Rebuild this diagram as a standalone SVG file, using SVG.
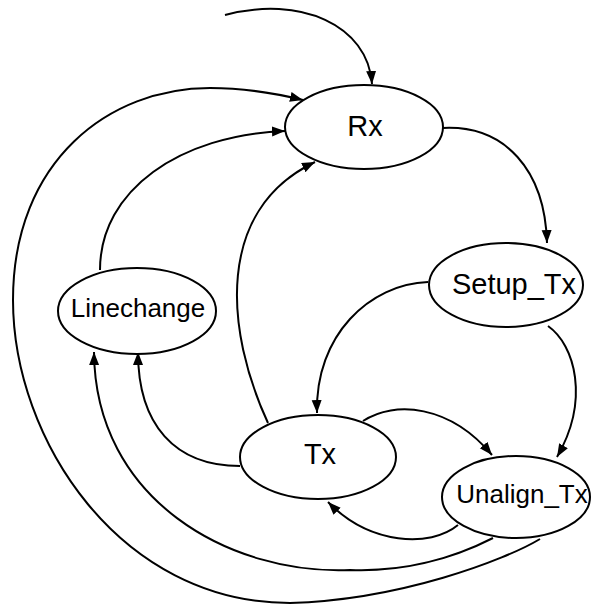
<svg xmlns="http://www.w3.org/2000/svg" width="592" height="606" viewBox="0 0 592 606">
<style>
.node ellipse{fill:#fff;stroke:#000;stroke-width:2}
.node text{font-family:"Liberation Sans",Arial,sans-serif;text-anchor:middle;fill:#000}
.big{font-size:29px}
.small{font-size:26px}
#edges path{fill:none;stroke:#000;stroke-width:2;marker-end:url(#arr)}
</style>
<defs>
<marker id="arr" markerUnits="userSpaceOnUse" markerWidth="14" markerHeight="11" refX="13" refY="5" orient="auto">
<path d="M0,0 L13,5 L0,10 z" fill="#000"/>
</marker>
</defs>
<rect width="592" height="606" fill="#fff"/>
<g id="edges">
<path d="M225,15 C300,-5 368,25 372,84"/>
<path d="M443,128 C505,125 545,170 547,243"/>
<path d="M428,282 C370,284 315,335 317,413"/>
<path d="M548,326 C575,345 590,400 557,457"/>
<path d="M363,421 C395,400 450,405 492,455"/>
<path d="M458,525 C430,548 370,545 328,502"/>
<path d="M240,466 C175,466 138,425 138,352"/>
<path d="M493,538 C450,560 400,572 350,570 C230,575 95,500 94,352"/>
<path d="M540,539 C505,560 400,600 290,603 C120,603 13,440 13,300 C13,160 110,88 210,88 C240,88 270,92 303,100"/>
<path d="M100,270 C100,190 180,135 285,131"/>
<path d="M268,423 C225,330 215,210 315,162"/>
</g>
<g id="node-rx" class="node"><ellipse cx="364" cy="127" rx="79" ry="42"/><text class="big" x="365" y="136">Rx</text></g>
<g id="node-setup" class="node"><ellipse cx="506" cy="285" rx="77" ry="42"/><text class="big" x="514" y="294">Setup_Tx</text></g>
<g id="node-linechange" class="node"><ellipse cx="137" cy="311" rx="79" ry="43"/><text class="small" x="138" y="317">Linechange</text></g>
<g id="node-tx" class="node"><ellipse cx="318" cy="457" rx="78" ry="42"/><text class="big" x="320" y="464">Tx</text></g>
<g id="node-unalign" class="node"><ellipse cx="516" cy="497" rx="74" ry="41"/><text class="small" x="522" y="503">Unalign_Tx</text></g>
</svg>
